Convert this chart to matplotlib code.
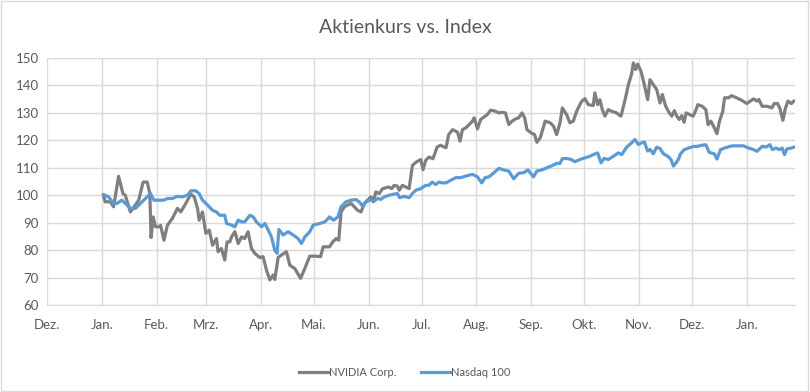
import numpy as np
import pandas as pd
import matplotlib
matplotlib.use("Agg")
import matplotlib.pyplot as plt
import matplotlib.dates as mdates
from matplotlib.patches import Rectangle

# days after 1 Jan 2025 and indexed values (start = 100)
nvda_day = [1, 1.9, 4.8, 6.7, 9.5, 12, 13.3, 16.2, 19, 20.9, 23.4, 25.7, 27.2, 27.9, 29.1,
            30.4, 32.3, 33.3, 35.2, 37.1, 39.9, 42.8, 44.7, 47, 50.4, 52.3, 54.2, 55.1, 57,
            58.9, 60.8, 62.7,
            64.9, 65.8, 67.7, 69.6, 70.9, 72.5, 73.4, 75.3, 77.2, 79.1, 80.9, 82.8, 84.7,
            86.6, 89.4, 91.3, 93.2, 95.1, 97.0, 97.9, 99.8, 101.7, 104.5, 106.4, 109.2, 112.5,
            114.9, 117.7, 120.6, 123.8, 125.3, 127.2,
            128.9, 130.7, 132.6, 134.1, 135.4, 137.3, 139.1, 141.1, 142.9, 144.8, 146.7,
            148.6, 150.4, 152.3, 153.6, 155.1, 157.0, 158.9, 160.8, 162.3, 164.1, 165.4,
            167.3, 168.3, 170.1, 172.0, 173.9, 175.8, 178.0, 180.5, 181.8, 183.3, 185.1,
            187.4, 189.8, 191.7, 193.6,
            194.8, 196.3, 198.5, 201.3, 202.7, 204.1, 205.9, 207.9, 209.8, 210.7, 212.6,
            214.4, 216.9, 218.2, 220.0, 222.8, 224.7, 226.6, 228.4, 230.3, 232.2, 234.1,
            235.9, 237.8, 239.3, 240.6, 243.0, 244.9, 246.2, 248.1, 250.9, 253.7, 255.6,
            257.4, 259.3, 260.6,
            263.0, 264.9, 266.8, 268.7, 271.5, 273.4, 275.3, 278.1, 279.0, 280.6, 281.9,
            283.2, 284.7, 286.6, 288.5, 291.3, 293.8, 296.1, 298.0, 299.8, 300.8, 302.1,
            303.2, 305.1, 307.0, 308.9, 310.2, 312.1, 314.0, 315.9, 317.2, 319.1, 320.6,
            322.5, 324.0, 325.4, 326.7,
            328.2, 329.5, 330.7, 332.6, 334.6, 335.9, 337.3, 339.8, 341.8, 343.1, 344.7,
            346.2, 348.1, 349.5, 351.4, 352.4, 354.7, 356.3, 359.2, 362.1, 365.0, 366.9,
            368.9, 370.8, 371.8, 373.7, 376.6, 379.2, 380.5, 382.4, 383.8, 385.4, 386.9,
            388.3, 390.2, 391.6, 393.1]
nvda_val = [100, 97.6, 97.6, 95.8, 106.9, 100.6, 100, 93.9, 96.4, 98.2, 104.8, 104.8, 100.6,
            84.6, 92.1, 88.5, 88.5, 89, 83.6, 89, 91.5, 95.2, 93.9, 96.4, 100.4, 99.4, 95.2,
            90.9, 93.9, 86.1, 87.3, 81.8,
            84.2, 79.4, 80.6, 76.4, 83.0, 83.0, 84.8, 86.7, 82.4, 84.8, 84.2, 86.7, 80.6,
            78.8, 77.3, 77.6, 72.7, 69.1, 70.9, 69.3, 77.3, 78.2, 79.4, 74.5, 73.3, 69.7,
            73.3, 77.8, 77.8, 77.6, 81.2, 81.2,
            81.2, 83.0, 84.2, 83.6, 93.9, 95.8, 96.4, 97.0, 95.8, 94.5, 93.9, 97.0, 98.2,
            99.4, 97.6, 101.2, 100.6, 102.4, 102.7, 103.0, 102.4, 103.6, 103.3, 101.8,
            103.6, 103.0, 102.4, 110.9, 112.1, 113.0, 109.3, 112.7, 113.9, 113.3, 117.6,
            118.2, 117.6,
            117.3, 122.1, 123.9, 123.0, 119.7, 123.9, 124.5, 125.8, 127.0, 128.2, 124.2,
            127.6, 128.8, 129.4, 131.0, 130.6, 130.0, 130.2, 130.0, 125.8, 127.0, 127.8,
            128.2, 130.0, 128.2, 123.9, 122.7, 122.1, 119.3, 120.9, 127.0, 126.4, 125.2,
            122.1, 126.4, 131.8,
            129.4, 126.4, 127.0, 130.6, 134.2, 135.2, 133.0, 132.7, 137.3, 133.0, 134.8,
            131.2, 128.8, 131.2, 130.6, 130.0, 128.8, 134.8, 140.3, 144.2, 148.2, 145.8,
            147.8, 145.2, 140.3, 134.8, 142.1, 140.3, 138.5, 133.6, 136.7, 132.4, 130.6,
            128.8, 130.8, 128.8, 127.6,
            129.0, 126.6, 130.0, 129.4, 128.8, 130.6, 133.0, 132.4, 131.2, 125.7, 127.0,
            125.1, 122.4, 126.9, 130.6, 135.5, 135.5, 136.3, 135.5, 134.6, 133.4, 134.3,
            135.1, 134.3, 134.9, 132.4, 132.4, 131.8, 133.4, 133.4, 131.5, 127.3, 131.8,
            134.3, 133.4, 134.3, 134.6]

ndx_day = [1, 3.8, 6.7, 8.6, 11.4, 13.3, 16.2, 19.0, 21.9, 24.7, 27.6, 29.5, 32.3, 35.2,
           37.1, 39.9, 42.8, 45.6, 48.5, 50.4, 53.2, 55.1, 57.0, 59.9, 62.7,
           64.9, 66.8, 69.6, 70.6, 73.4, 75.3, 77.2, 79.1, 80.9, 83.8, 85.7, 87.5, 90.4,
           92.3, 94.2, 96.0, 97.9, 99.2, 100.2, 102.6, 105.5, 108.3, 111.1, 113.0, 114.9,
           117.7, 119.6, 123.4, 126.2, 128.1,
           128.9, 131.1, 133.6, 135.4, 138.2, 141.1, 143.9, 145.7, 147.6, 149.5, 151.8,
           154.2, 156.1, 158.0, 159.8, 162.6, 165.4, 167.3, 168.6, 171.1, 173.9, 175.8,
           177.6, 180.5, 183.3, 185.1, 187.0, 188.9, 190.8, 192.7,
           194.8, 197.6, 200.4, 203.2, 206.0, 209.8, 212.6, 215.0, 216.9, 219.1, 221.9,
           224.7, 227.5, 230.3, 233.1, 235.9, 238.7, 241.2, 244.3, 246.2, 249.0, 251.8,
           254.6, 257.4, 259.3, 260.6,
           263.0, 265.8, 267.7, 270.5, 273.4, 276.2, 278.1, 280.6, 282.5, 284.3, 286.6,
           289.4, 292.3, 294.2, 297.0, 299.8, 301.7, 303.6, 305.5, 307.0, 308.9, 310.2,
           312.1, 314.0, 315.9, 317.8, 320.3, 322.1, 323.5, 325.4, 326.7,
           327.2, 329.5, 332.1, 335.0, 336.9, 338.8, 341.8, 343.7, 346.6, 348.1, 350.1,
           352.4, 355.3, 357.2, 360.2, 363.1, 366.0, 368.9, 370.8, 373.7, 376.1, 378.0,
           379.5, 381.5, 383.4, 385.0, 386.3, 387.7, 390.2, 393.1]
ndx_val = [100.2, 99.4, 97.0, 97.0, 98.2, 97.0, 95.2, 95.2, 97.0, 98.8, 100.6, 98.2, 98.2,
           98.2, 98.8, 98.8, 99.6, 99.4, 100.0, 101.6, 101.6, 100.6, 98.2, 96.4, 94.5,
           93.9, 92.7, 92.7, 89.7, 89.1, 88.5, 90.9, 90.3, 90.3, 92.7, 92.1, 90.3, 88.5,
           89.7, 87.3, 84.8, 80.0, 78.8, 87.5, 85.5, 86.7, 85.5, 84.2, 82.4, 84.8, 86.7,
           89.1, 89.7, 90.3, 91.5,
           92.1, 90.9, 92.1, 95.8, 97.6, 98.2, 98.4, 97.6, 96.0, 97.6, 98.2, 97.9, 98.8,
           98.5, 99.4, 100.0, 100.4, 100.6, 99.1, 99.6, 99.1, 100.6, 101.8, 102.4, 103.6,
           103.6, 104.8, 103.9, 104.8, 104.5,
           104.5, 105.5, 106.4, 106.4, 107.0, 107.6, 106.7, 104.5, 106.4, 106.7, 108.2,
           109.8, 109.2, 108.8, 106.0, 108.0, 108.2, 109.2, 106.7, 108.8, 109.2, 110.0,
           110.7, 111.6, 111.6, 113.3,
           113.4, 113.0, 112.2, 113.0, 113.6, 114.2, 114.8, 115.4, 111.8, 113.4, 113.0,
           114.2, 115.4, 114.8, 117.5, 119.1, 120.3, 118.5, 119.1, 119.4, 116.1, 116.7,
           115.1, 117.5, 117.0, 115.1, 114.2, 113.0, 110.6, 112.2, 113.6,
           114.8, 116.6, 117.2, 117.8, 117.8, 118.1, 118.4, 115.6, 115.1, 113.2, 116.6,
           117.2, 117.8, 118.0, 118.0, 118.0, 117.2, 116.6, 116.0, 117.8, 117.6, 118.4,
           116.6, 117.2, 116.6, 117.2, 114.8, 116.9, 117.2, 117.8]

month_names = ["Jan.", "Feb.", "Mrz.", "Apr.", "Mai.", "Jun.", "Jul.", "Aug.", "Sep.",
               "Okt.", "Nov.", "Dez."]

start = pd.Timestamp("2025-01-01")
nvda_dates = start + pd.to_timedelta(nvda_day, unit="D")
ndx_dates = start + pd.to_timedelta(ndx_day, unit="D")

plt.rcParams["font.family"] = ["Lato", "DejaVu Sans"]
txt = "#595959"
grid = "#D9D9D9"

fig = plt.figure(figsize=(8.1, 3.92), dpi=100)
fig.patches.append(Rectangle((0.001, 0.002), 0.997, 0.996, transform=fig.transFigure,
                             fill=False, edgecolor=grid, linewidth=1))
ax = fig.add_axes([0.058, 0.222, 0.924, 0.630])

ax.plot(nvda_dates, nvda_val, color="#7F7F7F", linewidth=2.3, label="NVIDIA Corp.",
        solid_joinstyle="round", zorder=3)
ax.plot(ndx_dates, ndx_val, color="#5B9BD5", linewidth=2.3, label="Nasdaq 100",
        solid_joinstyle="round", zorder=4)

ax.set_ylim(60, 150)
ax.set_yticks(range(60, 151, 10))
ax.set_xlim(pd.Timestamp("2024-12-01"), pd.Timestamp("2026-01-28 12:00"))
ax.xaxis.set_major_locator(mdates.MonthLocator())
ax.xaxis.set_major_formatter(plt.FuncFormatter(
    lambda v, p: month_names[mdates.num2date(v).month - 1]))

ax.grid(True, color=grid, linewidth=1)
ax.set_axisbelow(True)
for s in ["top", "right", "left"]:
    ax.spines[s].set_visible(False)
ax.spines["bottom"].set_color(grid)
ax.tick_params(length=0, labelsize=9.5, colors=txt)
ax.tick_params(axis="x", pad=10)
ax.tick_params(axis="y", pad=6)

fig.text(0.5, 0.93, "Aktienkurs vs. Index", ha="center", va="center", fontsize=14,
         color=txt)
fig.legend(loc="center", bbox_to_anchor=(0.5, 0.05), ncol=2, frameon=False, fontsize=8,
           labelcolor=txt, handlelength=2.6, handletextpad=0.1, columnspacing=2.2)

fig.savefig("out.png", dpi=100)
